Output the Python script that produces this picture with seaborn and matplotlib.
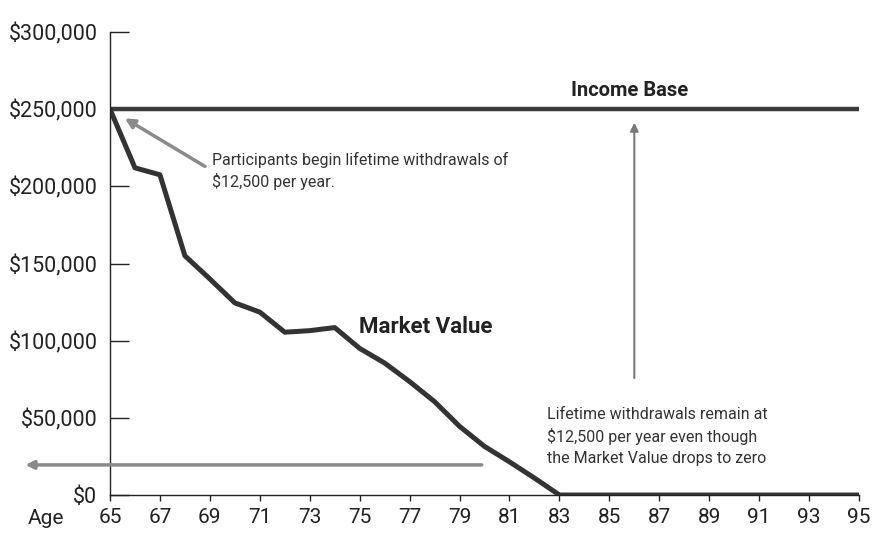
import numpy as np
import pandas as pd
import matplotlib
matplotlib.use("Agg")
import matplotlib.pyplot as plt
import seaborn as sns

# --- DATA ---
ages = list(range(65, 96))
market_value = [250000, 212000, 207500, 155000, 140000, 124500, 118500, 105500,
                106500, 108500, 95000, 85500, 73500, 60500, 44500, 31500,
                21500, 11000, 0, 0, 0, 0, 0, 0, 0, 0, 0, 0, 0, 0, 0]
income_base = [250000] * len(ages)
x_ticks = list(range(65, 96, 2))
y_ticks = [0, 50000, 100000, 150000, 200000, 250000, 300000]

sns.set_style("white")
plt.rcParams['font.family'] = ['Roboto', 'DejaVu Sans']

df = pd.DataFrame({"Age": ages, "Market Value": market_value, "Income Base": income_base})

fig = plt.figure(figsize=(8.73, 5.39), dpi=100)
ax = fig.add_axes([0.126, 0.0816, 0.858, 0.859])

sns.lineplot(data=df, x="Age", y="Income Base", ax=ax, color="#3a3a3a", lw=3.2)
sns.lineplot(data=df, x="Age", y="Market Value", ax=ax, color="#333333", lw=3.6)

ax.set_xlim(65, 95)
ax.set_ylim(0, 300000)
ax.set_xticks(x_ticks)
ax.set_xticklabels([str(a) for a in x_ticks])
ax.set_yticks(y_ticks)
ax.set_yticklabels([f"${v:,}" for v in y_ticks])
ax.set_xlabel("")
ax.set_ylabel("")

for s in ["top", "right"]:
    ax.spines[s].set_visible(False)
for s in ["left", "bottom"]:
    ax.spines[s].set_color("#222222")
    ax.spines[s].set_linewidth(1.0)

ax.tick_params(axis="y", left=True, direction="in", length=14, width=1, color="#222222",
               labelsize=15.5, labelcolor="#222222", pad=9)
ax.tick_params(axis="x", bottom=True, direction="out", length=4, width=1, color="#222222",
               labelsize=15, labelcolor="#222222", pad=5)

ax.text(-0.11, -0.03, "Age", transform=ax.transAxes, fontsize=15,
        color="#222222", ha="left", va="top")

# labels on the lines
ax.text(85.8, 262000, "Income Base", fontsize=14.5, fontweight="bold",
        color="#222222", ha="center", va="center")
ax.text(77.65, 109000, "Market Value", fontsize=16, fontweight="bold",
        color="#222222", ha="center", va="center")

# annotation: start of withdrawals
ax.annotate("", xy=(65.5, 245000), xytext=(68.9, 212000),
            arrowprops=dict(arrowstyle="-|>", color="#8a8a8a", lw=2.5,
                            mutation_scale=14))
ax.text(69.1, 210000, "Participants begin lifetime withdrawals of\n$12,500 per year.",
        fontsize=11.5, color="#333333", ha="left", va="center", linespacing=1.3)

# vertical arrow to income base
ax.annotate("", xy=(86.0, 243000), xytext=(86.0, 74000),
            arrowprops=dict(arrowstyle="-|>", color="#777777", lw=1.5,
                            mutation_scale=12))

# annotation: withdrawals continue
ax.text(82.5, 38000, "Lifetime withdrawals remain at\n$12,500 per year even though\nthe Market Value drops to zero",
        fontsize=11.5, color="#333333", ha="left", va="center", linespacing=1.45)

# horizontal arrow toward the axis
ax.annotate("", xy=(61.5, 19500), xytext=(80.0, 19500),
            arrowprops=dict(arrowstyle="-|>", color="#8a8a8a", lw=2.5,
                            mutation_scale=12), annotation_clip=False)

fig.savefig("out.png", dpi=100)
